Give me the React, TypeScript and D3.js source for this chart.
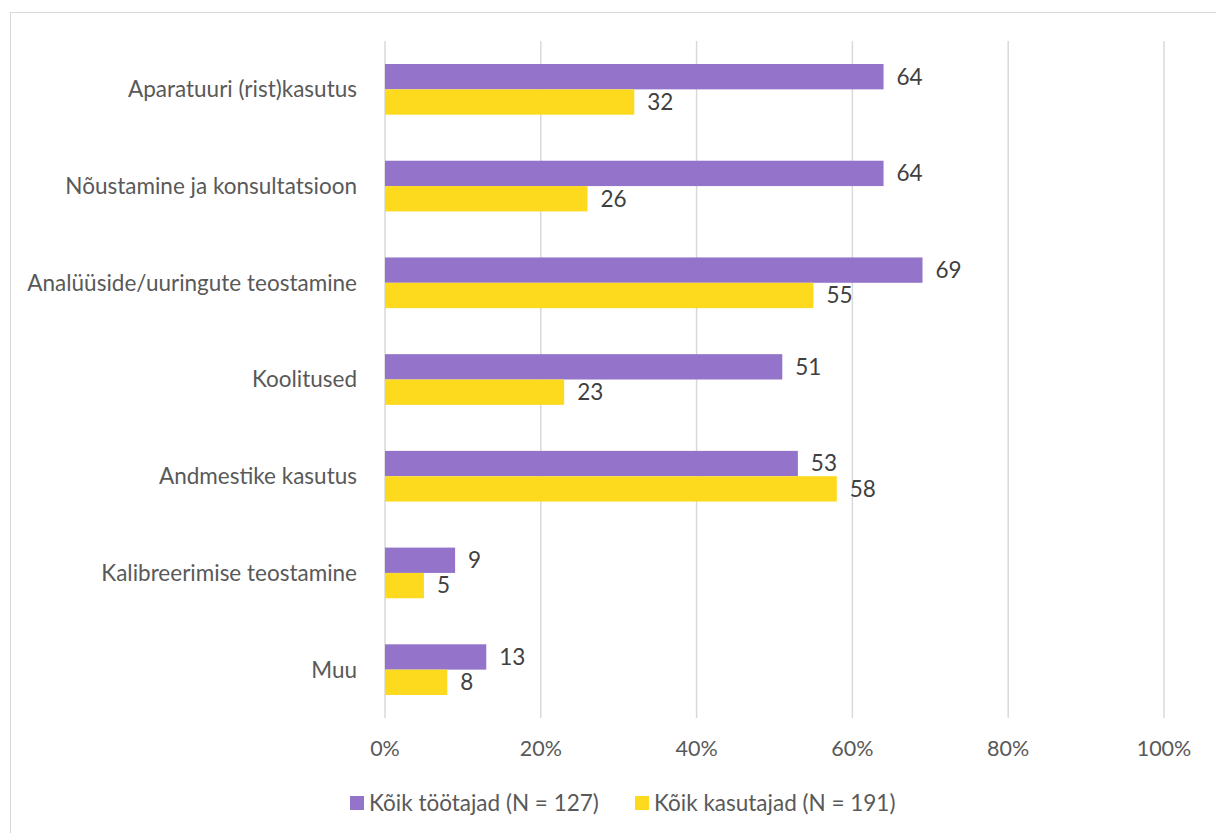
import React from "react";
import * as d3 from "d3";

const categories = [
  "Aparatuuri (rist)kasutus",
  "Nõustamine ja konsultatsioon",
  "Analüüside/uuringute teostamine",
  "Koolitused",
  "Andmestike kasutus",
  "Kalibreerimise teostamine",
  "Muu",
];
const seriesNames = ["Kõik töötajad (N = 127)", "Kõik kasutajad (N = 191)"];
const workers = [64, 64, 69, 51, 53, 9, 13];
const users = [32, 26, 55, 23, 58, 5, 8];
const tickValues = [0, 20, 40, 60, 80, 100];
const colors = ["#9474CA", "#FDDA1E"];

const W = 1216;
const H = 833;
const FONT = "Lato, 'Open Sans', sans-serif";
const TEXT = "#595959";

export default function App() {
  const x = d3.scaleLinear().domain([0, 100]).range([385, 1164]);
  const y = d3
    .scaleBand<string>()
    .domain(categories)
    .range([41, 718])
    .paddingInner(0.476)
    .paddingOuter(0.238);
  const inner = d3
    .scaleBand<string>()
    .domain(["w", "u"])
    .range([0, y.bandwidth()]);
  const series = [
    { key: "w", values: workers, color: colors[0] },
    { key: "u", values: users, color: colors[1] },
  ];
  const fs = 22.5;
  const fsTick = 21.5;

  return (
    <svg
      width={W}
      height={H}
      style={{ position: "absolute", left: 0, top: 0, display: "block", background: "#fff" }}
      fontFamily={FONT}
    >
      <rect x={10.5} y={12.5} width={1230} height={850} fill="#fff" stroke="#d9d9d9" strokeWidth={1} />
      {tickValues.map((t) => (
        <line key={t} x1={x(t)} x2={x(t)} y1={41} y2={718} stroke="#d9d9d9" strokeWidth={1.5} />
      ))}
      {categories.map((c, i) => (
        <g key={c}>
          {series.map((s) => {
            const y0 = (y(c) as number) + (inner(s.key) as number);
            const bh = inner.bandwidth();
            return (
              <g key={s.key}>
                <rect x={x(0)} y={y0} width={x(s.values[i]) - x(0)} height={bh} fill={s.color} />
                <text
                  x={x(s.values[i]) + 13}
                  y={y0 + bh / 2}
                  dy="0.35em"
                  fontSize={fs}
                  fill="#404040"
                >
                  {s.values[i]}
                </text>
              </g>
            );
          })}
          <text
            x={357}
            y={(y(c) as number) + y.bandwidth() / 2}
            dy="0.35em"
            textAnchor="end"
            fontSize={fs}
            fill={TEXT}
          >
            {c}
          </text>
        </g>
      ))}
      {tickValues.map((t) => (
        <text key={t} x={x(t)} y={748} dy="0.35em" textAnchor="middle" fontSize={fsTick} fill={TEXT}>
          {t + "%"}
        </text>
      ))}
      {seriesNames.map((n, i) => {
        const lx = [350, 635][i];
        return (
          <g key={n}>
            <rect x={lx} y={796} width={14} height={14} fill={colors[i]} />
            <text x={lx + 19} y={803} dy="0.35em" fontSize={fs} fill={TEXT}>
              {n}
            </text>
          </g>
        );
      })}
    </svg>
  );
}
